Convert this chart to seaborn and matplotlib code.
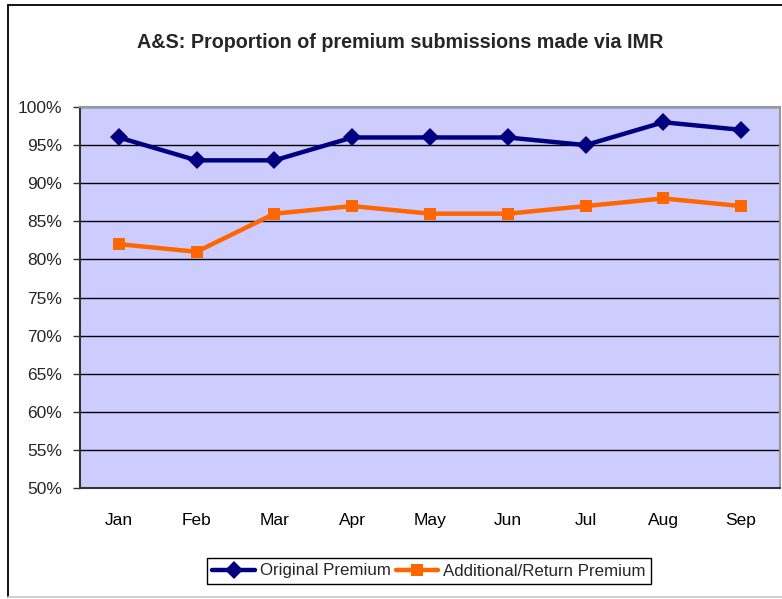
import matplotlib
matplotlib.use("Agg")
import matplotlib.pyplot as plt
from matplotlib.lines import Line2D
from matplotlib.ticker import FuncFormatter, MultipleLocator
import pandas as pd
import seaborn as sns

# ── data ───────────────────────────────────────────────────────────────────────
months = ["Jan", "Feb", "Mar", "Apr", "May", "Jun", "Jul", "Aug", "Sep"]
original_premium = [96, 93, 93, 96, 96, 96, 95, 98, 97]
additional_return_premium = [82, 81, 86, 87, 86, 86, 87, 88, 87]
series_names = ["Original Premium", "Additional/Return Premium"]

df = pd.DataFrame({
    "month": months * 2,
    "pos": list(range(len(months))) * 2,
    "value": original_premium + additional_return_premium,
    "series": [series_names[0]] * len(months) + [series_names[1]] * len(months),
})

sns.set_theme(style="white")
plt.rcParams["font.family"] = ["Liberation Sans", "DejaVu Sans"]

fig = plt.figure(figsize=(7.82, 5.99), dpi=100)
W, H = 782, 599
ax = fig.add_axes([80 / W, 1 - 488 / H, 700 / W, (488 - 107) / H])
ax.set_facecolor("#CCCCFF")

sns.lineplot(
    data=df, x="pos", y="value", hue="series", style="series",
    palette=["#000080", "#FF6600"], markers=["D", "s"], dashes=False,
    linewidth=3.2, markersize=9, markeredgewidth=0, ax=ax,
)

ax.set_xlim(-0.5, len(months) - 0.5)
ax.set_ylim(50, 100)
ax.yaxis.set_major_locator(MultipleLocator(5))
ax.yaxis.set_major_formatter(FuncFormatter(lambda v, _: f"{v:.0f}%"))
ax.set_xticks(range(len(months)))
ax.set_xticklabels(months)
ax.set_xticks([i - 0.5 for i in range(len(months) + 1)], minor=True)
ax.tick_params(axis="x", which="major", length=0, pad=18, labelsize=12.5, colors="black")
ax.tick_params(axis="x", which="minor", length=5, width=1, color="#333333", direction="out")
ax.tick_params(axis="y", length=5, width=1, color="#333333", direction="out",
               labelsize=12.5, pad=8, left=True)
ax.grid(axis="y", color="black", linewidth=1)
ax.set_axisbelow(True)
ax.set_xlabel("")
ax.set_ylabel("")

for side in ["left", "bottom"]:
    ax.spines[side].set_color("#333333")
    ax.spines[side].set_linewidth(1.5)
for side in ["top", "right"]:
    ax.spines[side].set_color("#999999")
    ax.spines[side].set_linewidth(1.5)

handles, labels = ax.get_legend_handles_labels()
ax.legend(handles, labels, loc="center", bbox_to_anchor=(429 / W, 1 - 571 / H),
          bbox_transform=fig.transFigure, ncol=2, frameon=True, fancybox=False,
          edgecolor="black", fontsize=12.2, handlelength=2.5, handletextpad=0.3,
          columnspacing=0.3, borderpad=0.3, borderaxespad=0, framealpha=1)

fig.text(400 / W, 1 - 42 / H, "A&S: Proportion of premium submissions made via IMR",
         ha="center", va="center", fontsize=14.2, fontweight="bold")

# chart-area border (top/left dark, bottom pale)
x0, ytop, ybot = 7.5 / W, 1 - 4.5 / H, 1 - 597 / H
fig.add_artist(Line2D([x0, 1], [ytop, ytop], transform=fig.transFigure, color="black", lw=1.3))
fig.add_artist(Line2D([x0, x0], [ybot, ytop], transform=fig.transFigure, color="black", lw=1.3))
fig.add_artist(Line2D([x0, 1], [ybot, ybot], transform=fig.transFigure, color="#cccccc", lw=1.3))

fig.savefig("out.png", dpi=100)
